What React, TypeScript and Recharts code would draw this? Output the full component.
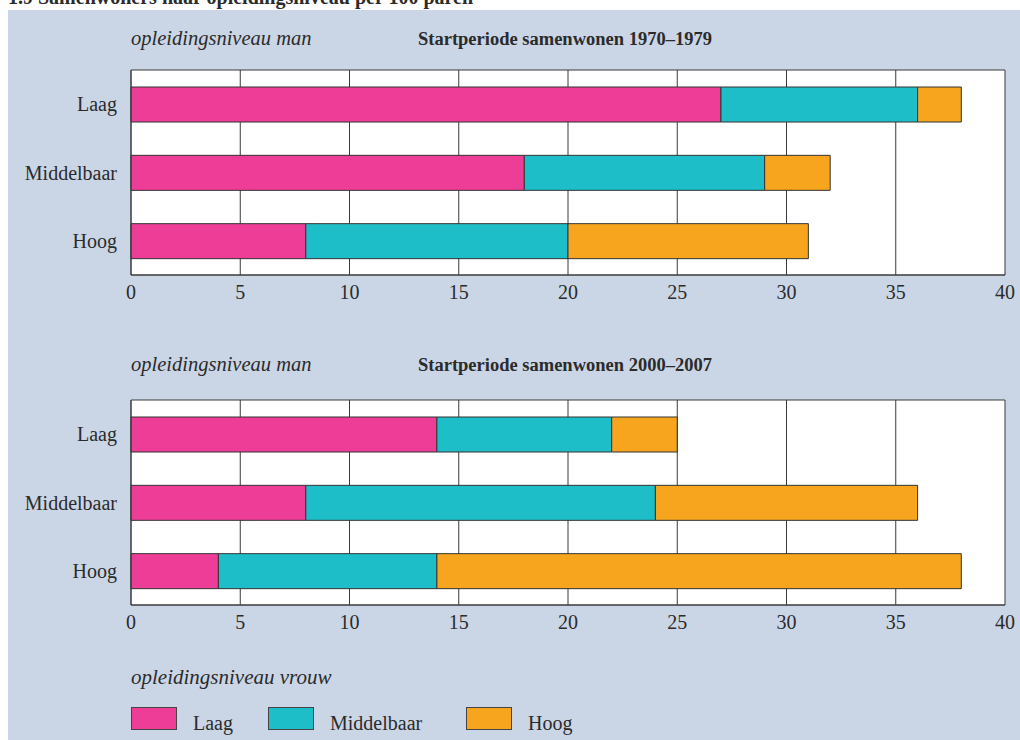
import React from 'react'
import { Bar, BarChart, CartesianGrid, XAxis, YAxis } from 'recharts'

// opleidingsniveau man (rows) x opleidingsniveau vrouw (stacks), per 100 paren
const categories = ['Laag', 'Middelbaar', 'Hoog']
const seriesNames = ['Laag', 'Middelbaar', 'Hoog']
const seriesColors = ['#ee3d96', '#1ebec8', '#f7a51e']

const vrouwLaag1970 = [27, 18, 8]
const vrouwMiddel1970 = [9, 11, 12]
const vrouwHoog1970 = [2, 3, 11]

const vrouwLaag2000 = [14, 8, 4]
const vrouwMiddel2000 = [8, 16, 10]
const vrouwHoog2000 = [3, 12, 24]

const xTicks = [0, 5, 10, 15, 20, 25, 30, 35, 40]

const FONT = 'Liberation Serif, serif'
const TEXT = '#2b2b2b'
const PANEL = '#cad6e6'

const buildRows = (a: number[], b: number[], c: number[]) =>
  categories.map((name, i) => ({ name, s0: a[i], s1: b[i], s2: c[i] }))

const rows1970 = buildRows(vrouwLaag1970, vrouwMiddel1970, vrouwHoog1970)
const rows2000 = buildRows(vrouwLaag2000, vrouwMiddel2000, vrouwHoog2000)

function StackChart({ data }: { data: { name: string; s0: number; s1: number; s2: number }[] }) {
  return (
    <BarChart
      width={1020}
      height={260}
      data={data}
      layout="vertical"
      margin={{ top: 10, right: 15, bottom: 15, left: 11 }}
      barSize={35}
      style={{ fontFamily: FONT }}
    >
      <CartesianGrid
        fill="#ffffff"
        stroke="#3a3a3a"
        strokeWidth={1}
        horizontalCoordinatesGenerator={(props: any) => [
          props.offset.top,
          props.offset.top + props.offset.height,
        ]}
      />
      <XAxis
        type="number"
        domain={[0, 40]}
        ticks={xTicks}
        tickLine={false}
        axisLine={{ stroke: '#3a3a3a' }}
        tickSize={0}
        tickMargin={10}
        height={30}
        tick={{ fill: TEXT, fontSize: 20, fontFamily: FONT }}
      />
      <YAxis
        type="category"
        dataKey="name"
        width={120}
        tickLine={false}
        axisLine={{ stroke: '#3a3a3a' }}
        tickSize={0}
        tickMargin={14}
        tick={{ fill: TEXT, fontSize: 20, fontFamily: FONT }}
      />
      {['s0', 's1', 's2'].map((k, i) => (
        <Bar
          key={k}
          dataKey={k}
          name={seriesNames[i]}
          stackId="a"
          fill={seriesColors[i]}
          stroke="#333333"
          strokeWidth={1}
          isAnimationActive={false}
        />
      ))}
    </BarChart>
  )
}

function Heading({ top, period }: { top: number; period: string }) {
  return (
    <>
      <div style={{ position: 'absolute', left: 131, top: top - 1, fontStyle: 'italic', fontSize: 20.5 }}>
        opleidingsniveau man
      </div>
      <div style={{ position: 'absolute', left: 418, top: top + 1, fontWeight: 'bold', fontSize: 18.5 }}>
        Startperiode samenwonen {period}
      </div>
    </>
  )
}

export default function App() {
  return (
    <div
      style={{
        position: 'absolute',
        left: 0,
        top: 0,
        width: 1020,
        height: 740,
        background: '#ffffff',
        overflow: 'hidden',
        fontFamily: FONT,
        color: TEXT,
      }}
    >
      <div style={{ position: 'absolute', left: 8, top: -14, fontWeight: 'bold', fontSize: 20 }}>
        1.9 Samenwoners naar opleidingsniveau per 100 paren
      </div>
      <div style={{ position: 'absolute', left: 8, top: 10, width: 1012, height: 730, background: PANEL }} />

      <Heading top={28} period="1970–1979" />
      <div style={{ position: 'absolute', left: 0, top: 60 }}>
        <StackChart data={rows1970} />
      </div>

      <Heading top={354} period="2000–2007" />
      <div style={{ position: 'absolute', left: 0, top: 390 }}>
        <StackChart data={rows2000} />
      </div>

      <div style={{ position: 'absolute', left: 131, top: 665, fontStyle: 'italic', fontSize: 21 }}>
        opleidingsniveau vrouw
      </div>
      {seriesNames.map((name, i) => {
        const left = [131, 268, 466][i]
        return (
          <div key={name} style={{ position: 'absolute', left, top: 707, display: 'flex', alignItems: 'center' }}>
            <div
              style={{
                width: 46,
                height: 23,
                background: seriesColors[i],
                border: '1px solid #444',
                boxSizing: 'border-box',
              }}
            />
            <span style={{ marginLeft: 16, fontSize: 20, position: 'relative', top: 5 }}>{name}</span>
          </div>
        )
      })}
    </div>
  )
}
